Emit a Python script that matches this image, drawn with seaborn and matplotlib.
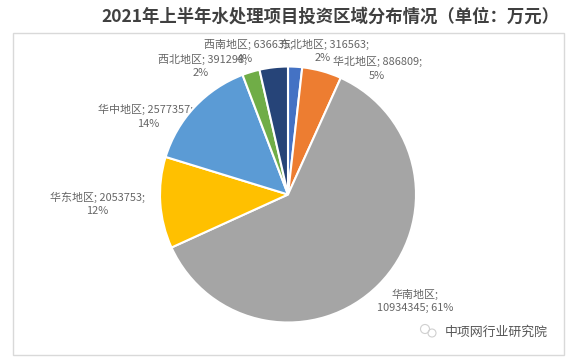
import matplotlib
matplotlib.use('Agg')
import matplotlib.pyplot as plt
from matplotlib.patches import Circle, Rectangle
import seaborn as sns

regions = ['东北地区', '华北地区', '华南地区', '华东地区', '华中地区', '西北地区', '西南地区']
values = [316563, 886809, 10934345, 2053753, 2577357, 391298, 636635]
percents = ['2%', '5%', '61%', '12%', '14%', '2%', '4%']
colors = ['#4472C4', '#ED7D31', '#A5A5A5', '#FFC000', '#5B9BD5', '#70AD47', '#264478']
title = '2021年上半年水处理项目投资区域分布情况（单位：万元）'
watermark = '中项网行业研究院'

sns.set_theme(style='white')
plt.rcParams['font.family'] = ['Noto Sans CJK SC', 'DejaVu Sans']

W, H = 576, 364
fig = plt.figure(figsize=(W / 100, H / 100), dpi=100, facecolor='white')

# full figure overlay in pixel coords, y going down
bg = fig.add_axes([0, 0, 1, 1])
bg.set_xlim(0, W)
bg.set_ylim(H, 0)
bg.axis('off')
bg.add_patch(Rectangle((13, 33), 551, 322, fill=False, ec='#d9d9d9', lw=1))

# pie
cx, cy, r = 288, 194.5, 128
ax = fig.add_axes([(cx - r) / W, 1 - (cy + r) / H, 2 * r / W, 2 * r / H])
ax.pie(values, colors=colors, startangle=90, counterclock=False, radius=1,
       wedgeprops={'edgecolor': 'white', 'linewidth': 1.5})
ax.set_xlim(-1, 1)
ax.set_ylim(-1, 1)

grey = '#666666'
fs = 7.9
bg.text(330, 17, title, ha='center', va='center', fontsize=12.5, fontweight='bold', color='#404040')

# data labels, same overlaps as the source chart
bg.text(248, 44, f'{regions[6]}; {values[6]};', ha='center', va='center', fontsize=fs, color=grey)
bg.text(245, 59, percents[6], ha='center', va='center', fontsize=fs, color=grey)
bg.text(324, 44, f'{regions[0]}; {values[0]};', ha='center', va='center', fontsize=fs, color=grey)
bg.text(323, 58, percents[0], ha='center', va='center', fontsize=fs, color=grey)
bg.text(378, 61, f'{regions[1]}; {values[1]};', ha='center', va='center', fontsize=fs, color=grey)
bg.text(377, 76, percents[1], ha='center', va='center', fontsize=fs, color=grey)
bg.text(203, 59, f'{regions[5]}; {values[5]};', ha='center', va='center', fontsize=fs, color=grey)
bg.text(201, 73, percents[5], ha='center', va='center', fontsize=fs, color=grey)
bg.text(146, 109, f'{regions[4]}; {values[4]};', ha='center', va='center', fontsize=fs, color=grey)
bg.text(148, 124, percents[4], ha='center', va='center', fontsize=fs, color=grey)
bg.text(98, 197, f'{regions[3]}; {values[3]};', ha='center', va='center', fontsize=fs, color=grey)
bg.text(97, 211, percents[3], ha='center', va='center', fontsize=fs, color=grey)
bg.text(415, 294, f'{regions[2]};', ha='center', va='center', fontsize=fs, color=grey)
bg.text(415, 308, f'{values[2]}; {percents[2]}', ha='center', va='center', fontsize=fs, color=grey)

# watermark
bg.add_patch(Circle((425, 329), 4.5, fill=False, ec='#d0d0d0', lw=0.8))
bg.add_patch(Circle((432, 333), 4, fill=False, ec='#d0d0d0', lw=0.8))
bg.text(496, 332, watermark, ha='center', va='center', fontsize=9.3, color='#555555')

fig.savefig('out.png', dpi=100)
